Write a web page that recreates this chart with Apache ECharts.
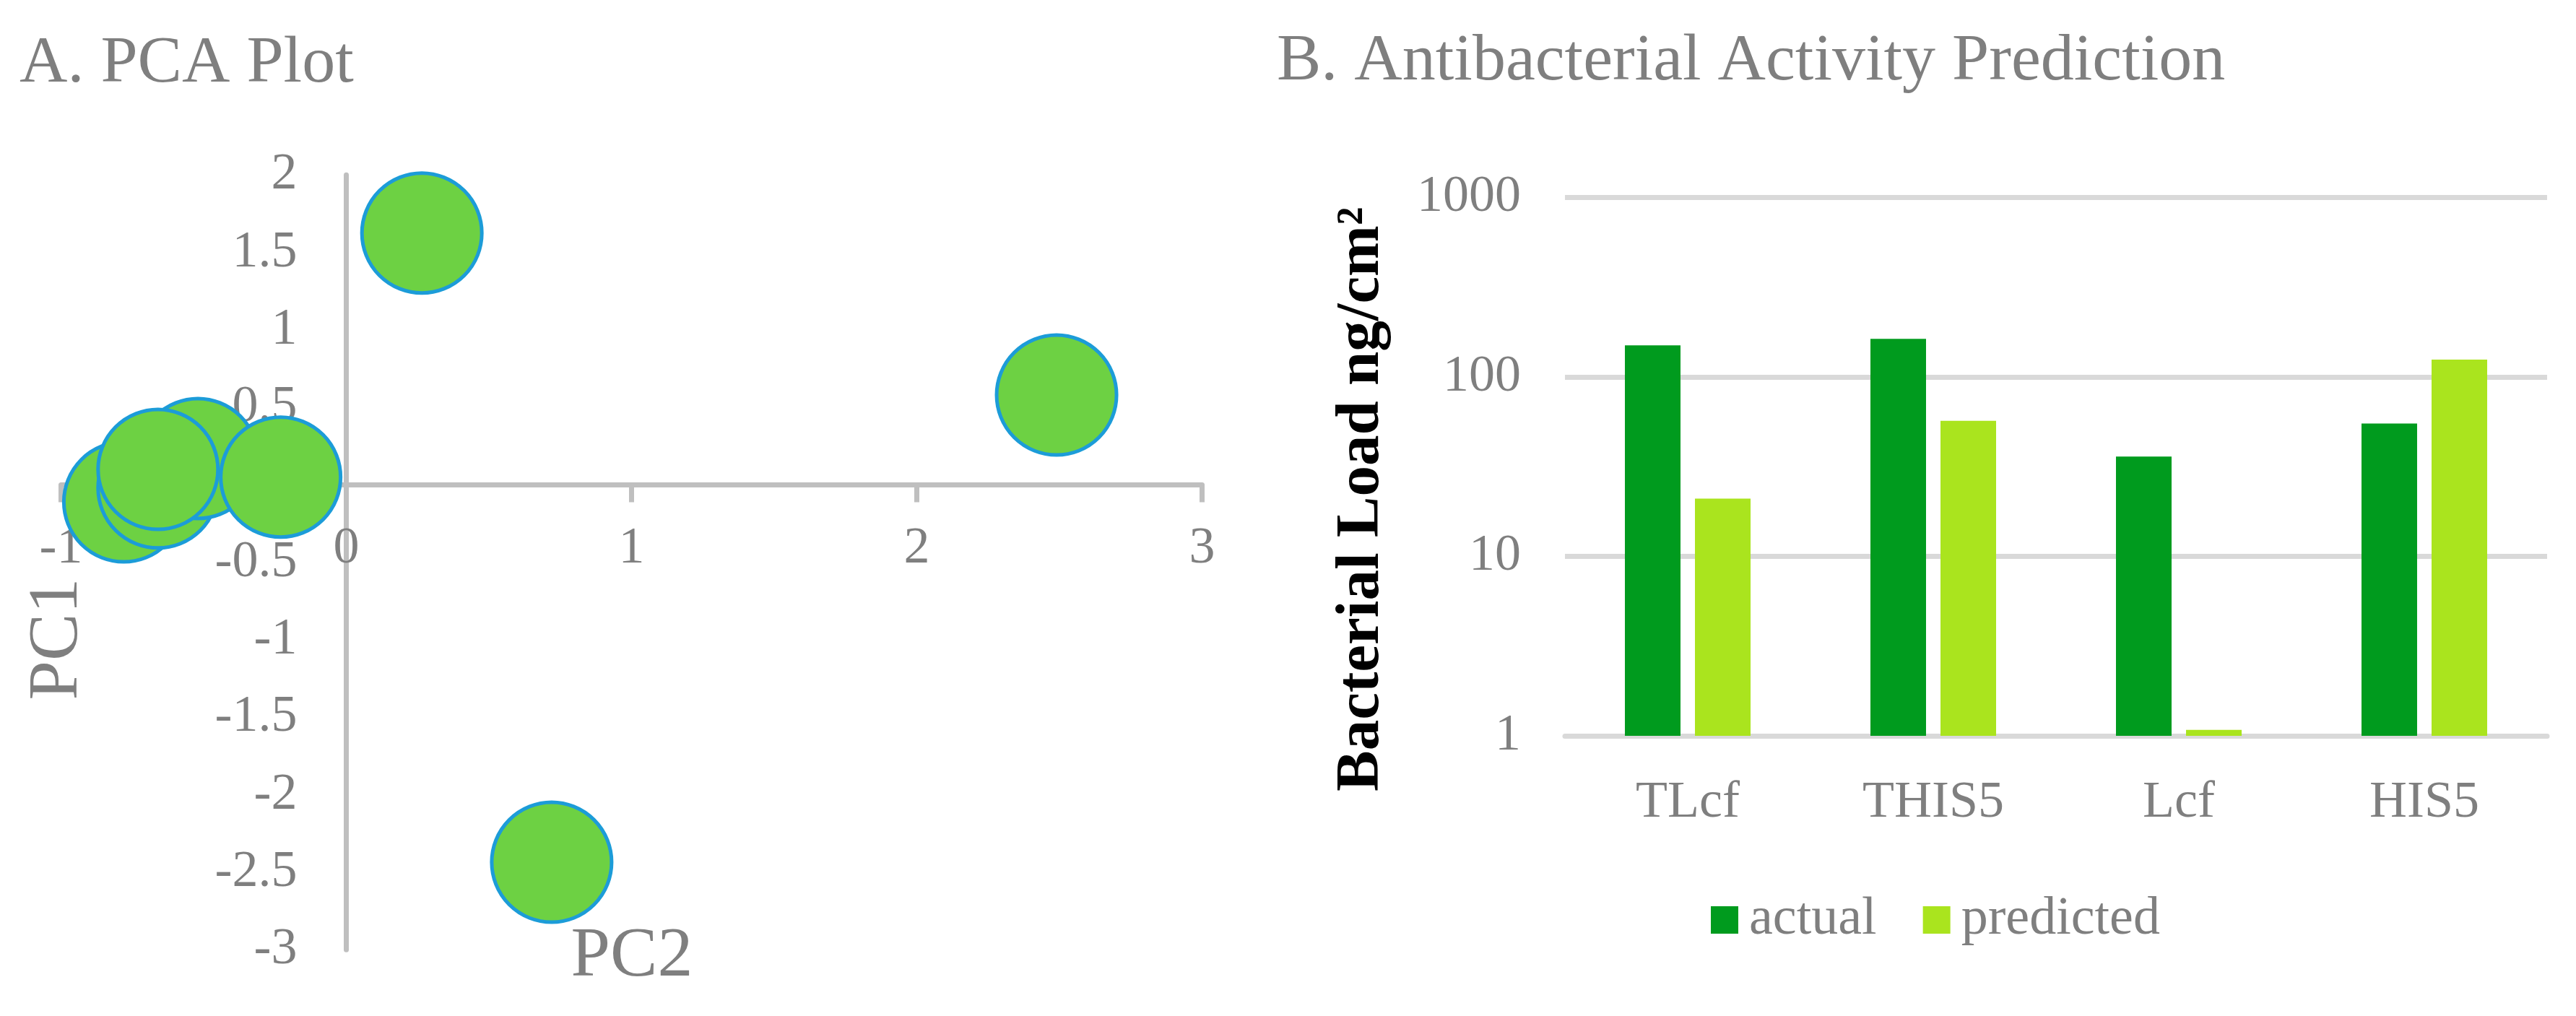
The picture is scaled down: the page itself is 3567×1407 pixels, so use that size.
<!DOCTYPE html>
<html>
<head>
<meta charset="utf-8">
<script src="https://cdn.jsdelivr.net/npm/echarts@6/dist/echarts.min.js"></script>
<style>
html,body{margin:0;padding:0;background:#fff;}
#chart{width:3567px;height:1407px;}
</style>
</head>
<body>
<div id="chart"></div>
<script>
// ---- Panel A: PCA plot (x = PC2, y = PC1) ----
const pcaX = [-0.78, -0.66, -0.52, -0.66, -0.23, 0.265, 2.49, 0.72];
const pcaY = [-0.11, -0.02, 0.17, 0.10, 0.05, 1.625, 0.58, -2.435];

// ---- Panel B: antibacterial activity ----
const categories = ['TLcf', 'THIS5', 'Lcf', 'HIS5'];
const actualValues = [150, 163, 36, 55];
const predictedValues = [21, 57, 1.08, 125];

const FONT = "'Liberation Serif', 'Times New Roman', serif";
const GREY = '#7f7f7f';

// panel A geometry (pixels)
const A_LEFT = 84.5, A_TOP = 242.3, A_W = 1580, A_H = 1073;
const A_X0_OFFSET = -(A_W * 1 / 4);      // y axis sits at x = 0 (range -1..3)
const A_Y0_OFFSET = -(A_H * 3 / 5);      // x axis sits at y = 0 (range -3..2)

const chart = echarts.init(document.getElementById('chart'), null, {renderer: 'canvas'});

chart.setOption({
  backgroundColor: '#ffffff',
  animation: false,
  textStyle: {fontFamily: FONT},
  title: [
    {text: 'A. PCA Plot', left: 22, top: 38,
     textStyle: {fontFamily: FONT, fontSize: 92, fontWeight: 'normal', color: GREY}},
    {text: 'B. Antibacterial Activity Prediction', left: 1763, top: 35,
     textStyle: {fontFamily: FONT, fontSize: 92, fontWeight: 'normal', color: GREY}}
  ],
  legend: {
    left: 2364, top: 1232,
    itemWidth: 38, itemHeight: 38, itemGap: 64,
    icon: 'rect',
    data: ['actual', 'predicted'],
    textStyle: {fontFamily: FONT, fontSize: 74, color: GREY, padding: [0, 0, 0, 10]}
  },
  grid: [
    {left: A_LEFT, top: A_TOP, width: A_W, height: A_H, containLabel: false, outerBoundsMode: 'none'},
    {left: 2167, right: 40, top: 273.5, bottom: 388, containLabel: false, outerBoundsMode: 'none'}
  ],
  xAxis: [
    {gridIndex: 0, type: 'value', min: -1, max: 3, interval: 1, position: 'bottom', offset: A_Y0_OFFSET,
     axisLine: {onZero: false, lineStyle: {color: '#bfbfbf', width: 7}},
     axisTick: {show: true, length: 24, lineStyle: {color: '#bfbfbf', width: 7}},
     splitLine: {show: false},
     axisLabel: {fontFamily: FONT, fontSize: 72, color: GREY, margin: 53, showMinLabel: true, showMaxLabel: true, hideOverlap: false}},
    {gridIndex: 1, type: 'category', data: categories,
     axisLine: {show: true, lineStyle: {color: '#d9d9d9', width: 7}},
     axisTick: {show: false},
     axisLabel: {fontFamily: FONT, fontSize: 72, color: GREY, margin: 57}}
  ],
  yAxis: [
    {gridIndex: 0, type: 'value', min: -3, max: 2, interval: 0.5, position: 'left', offset: A_X0_OFFSET,
     axisLine: {show: true, onZero: false, lineStyle: {color: '#bfbfbf', width: 7}},
     axisTick: {show: false},
     splitLine: {show: false},
     axisLabel: {fontFamily: FONT, fontSize: 72, color: GREY, margin: 68, showMinLabel: true, showMaxLabel: true, hideOverlap: false}},
    {gridIndex: 1, type: 'log', logBase: 10, min: 1, max: 1000, interval: 1,
     name: 'Bacterial Load ng/cm\u00B2',
     nameLocation: 'middle', nameRotate: 90, nameGap: 238,
     nameTextStyle: {fontFamily: FONT, fontSize: 85, fontWeight: 'bold', color: '#000000', padding: [0, 90, 0, 0]},
     axisLine: {show: false},
     axisTick: {show: false},
     splitLine: {show: true, lineStyle: {color: '#d9d9d9', width: 7}},
     axisLabel: {fontFamily: FONT, fontSize: 72, color: GREY, margin: 61,
                 formatter: v => String(Math.round(v))}}
  ],
  graphic: [
    {type: 'text', x: 80, y: 885, rotation: Math.PI / 2,
     style: {text: 'PC1', fontFamily: FONT, fontSize: 98, fill: GREY, align: 'center', verticalAlign: 'middle'}},
    {type: 'text', x: 875, y: 1325,
     style: {text: 'PC2', fontFamily: FONT, fontSize: 98, fill: GREY, align: 'center', verticalAlign: 'middle'}}
  ],
  series: [
    {type: 'scatter', xAxisIndex: 0, yAxisIndex: 0,
     data: pcaX.map((x, i) => [x, pcaY[i]]),
     symbol: 'circle', symbolSize: 166,
     itemStyle: {color: '#6dd143', borderColor: '#1c9cd8', borderWidth: 5, opacity: 1}},
    {type: 'bar', name: 'actual', xAxisIndex: 1, yAxisIndex: 1,
     data: actualValues, barWidth: 77, barGap: '26%',
     itemStyle: {color: '#009b1e'}},
    {type: 'bar', name: 'predicted', xAxisIndex: 1, yAxisIndex: 1,
     data: predictedValues, barWidth: 77, barGap: '26%',
     itemStyle: {color: '#aae41e'}}
  ]
});
</script>
</body>
</html>
